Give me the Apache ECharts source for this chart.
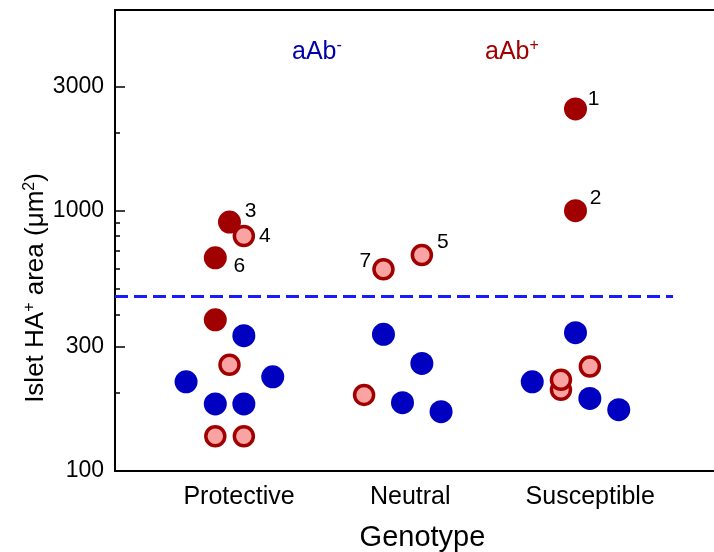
<!DOCTYPE html>
<html>
<head>
<meta charset="utf-8">
<script src="https://cdn.jsdelivr.net/npm/echarts@6/dist/echarts.min.js"></script>
<style>
html, body { margin: 0; padding: 0; background: #fff; }
#chart { width: 714px; height: 552px; }
</style>
</head>
<body>
<div id="chart"></div>
<script>
// genotype groups, x = group index + jitter
const genotypes = ['Protective', 'Neutral', 'Susceptible'];
const genotypeLabelX = [1.055, 2.045, 3.085];

// aAb- (blue)
const negX = [1.083, 0.749, 1.25, 0.918, 1.083, 1.89, 2.112, 2.0, 2.223, 3.0, 2.75, 3.083, 3.25];
const negY = [331, 220, 230, 181, 181, 335, 259, 183, 169, 340, 220, 190, 172];

// aAb+ filled (dark red)
const posFilledX = [1.0, 0.918, 0.918, 3.0, 3.0];
const posFilledY = [904, 659, 381, 2460, 1000];
const posFilledTag = ['3', '6', '', '1', '2'];

// aAb+ open (pink)
const posOpenX = [1.083, 1.0, 0.918, 1.083, 1.89, 2.112, 1.778, 3.083, 2.916, 2.916];
const posOpenY = [799, 256, 136, 136, 596, 676, 196, 252, 205, 224];
const posOpenTag = ['4', '', '', '', '7', '5', '', '', '', ''];

const yMajorTicks = [100, 300, 1000, 3000];
const yMinorTicks = [200, 400, 500, 600, 700, 800, 900, 2000];
const threshold = 470;
const thresholdEndX = 3.564;

const X_MIN = 0.3382, X_MAX = 3.8353;
const tagOffset = { '1': [18, -10], '2': [20, -12], '3': [21, -11], '4': [21, 0], '5': [21, -13], '6': [24, 8], '7': [-18, -8] };

function build (xs, ys, tags) {
  return xs.map(function (x, i) {
    const item = { value: [x, ys[i]] };
    const t = tags ? tags[i] : '';
    if (t) {
      item.label = {
        show: true,
        formatter: t,
        position: 'inside',
        align: 'center',
        verticalAlign: 'middle',
        offset: tagOffset[t],
        color: '#000',
        fontSize: 21,
        fontFamily: 'Liberation Sans'
      };
    }
    return item;
  });
}

function genotypeName (v) {
  let best = 0
  for (let i = 1; i < genotypeLabelX.length; i++) {
    if (Math.abs(genotypeLabelX[i] - v) < Math.abs(genotypeLabelX[best] - v)) best = i
  }
  return genotypes[best]
}

const chart = echarts.init(document.getElementById('chart'));
const option = {
  animation: false,
  textStyle: { fontFamily: 'Liberation Sans' },
  grid: { left: 115, top: 10, right: -6, bottom: 81, outerBoundsMode: 'none', containLabel: false },
  xAxis: [{
    type: 'value',
    min: X_MIN,
    max: X_MAX,
    splitLine: { show: false },
    axisLine: { onZero: false, lineStyle: { color: '#000', width: 2 } },
    axisTick: { show: false },
    axisLabel: {
      customValues: genotypeLabelX,
      formatter: genotypeName,
      hideOverlap: false,
      showMinLabel: true,
      showMaxLabel: true,
      color: '#000',
      fontSize: 25,
      margin: 14
    },
    name: 'Genotype',
    nameLocation: 'middle',
    nameGap: 52,
    nameTextStyle: { color: '#000', fontSize: 29, padding: [0, 0, 0, 10] }
  }, {
    type: 'value',
    position: 'top',
    min: X_MIN,
    max: X_MAX,
    splitLine: { show: false },
    axisLine: { onZero: false, lineStyle: { color: '#000', width: 2 } },
    axisTick: { show: false },
    axisLabel: { show: false }
  }],
  yAxis: [{
    type: 'log',
    logBase: 10,
    min: 100,
    max: 5900,
    splitLine: { show: false },
    axisLine: { show: true, onZero: false, lineStyle: { color: '#000', width: 2 } },
    axisTick: { inside: true, length: 10, customValues: yMajorTicks, lineStyle: { color: '#000', width: 1.5 } },
    axisLabel: { customValues: yMajorTicks, formatter: function (v) { return String(Math.round(v)) }, color: '#000', fontSize: 23, margin: 11 },
    minorTick: { show: false }
  }, {
    type: 'log',
    logBase: 10,
    position: 'left',
    min: 100,
    max: 5900,
    splitLine: { show: false },
    axisLine: { show: false },
    axisTick: { inside: true, length: 5, customValues: yMinorTicks, lineStyle: { color: '#000', width: 1.5 } },
    axisLabel: { show: false }
  }],
  graphic: [{
    type: 'text',
    x: 292,
    y: 52,
    style: {
      text: '{a|aAb}{s|-}',
      verticalAlign: 'middle',
      rich: {
        a: { fontSize: 25, lineHeight: 28, fill: '#0000a8', fontFamily: 'Liberation Sans' },
        s: { fontSize: 16, lineHeight: 28, verticalAlign: 'top', fill: '#0000a8', fontFamily: 'Liberation Sans' }
      }
    }
  }, {
    type: 'text',
    x: 485,
    y: 52,
    style: {
      text: '{a|aAb}{s|+}',
      verticalAlign: 'middle',
      rich: {
        a: { fontSize: 25, lineHeight: 28, fill: '#a00000', fontFamily: 'Liberation Sans' },
        s: { fontSize: 16, lineHeight: 28, verticalAlign: 'top', fill: '#a00000', fontFamily: 'Liberation Sans' }
      }
    }
  }, {
    type: 'text',
    x: 36,
    y: 288,
    rotation: Math.PI / 2,
    style: {
      text: '{a|Islet HA}{s|+}{a| area (μm}{s|2}{a|)}',
      align: 'center',
      verticalAlign: 'middle',
      rich: {
        a: { fontSize: 26, lineHeight: 28, fill: '#000', fontFamily: 'Liberation Sans' },
        s: { fontSize: 16, lineHeight: 28, verticalAlign: 'top', fill: '#000', fontFamily: 'Liberation Sans' }
      }
    }
  }],
  series: [{
    name: 'aAb-',
    type: 'scatter',
    symbolSize: 23,
    itemStyle: { color: '#0000c0', opacity: 1 },
    data: build(negX, negY, null),
    markLine: {
      silent: true,
      symbol: 'none',
      label: { show: false },
      lineStyle: { color: '#1a1aff', width: 3, type: [13, 6] },
      data: [[{ coord: [X_MIN, threshold] }, { coord: [thresholdEndX, threshold] }]]
    }
  }, {
    name: 'aAb+ filled',
    type: 'scatter',
    symbolSize: 23,
    itemStyle: { color: '#a00000', opacity: 1 },
    data: build(posFilledX, posFilledY, posFilledTag)
  }, {
    name: 'aAb+ open',
    type: 'scatter',
    symbolSize: 19,
    itemStyle: { color: '#f9a3a3', borderColor: '#a00000', borderWidth: 3.5, opacity: 1 },
    data: build(posOpenX, posOpenY, posOpenTag)
  }]
};
chart.setOption(option);
</script>
</body>
</html>
